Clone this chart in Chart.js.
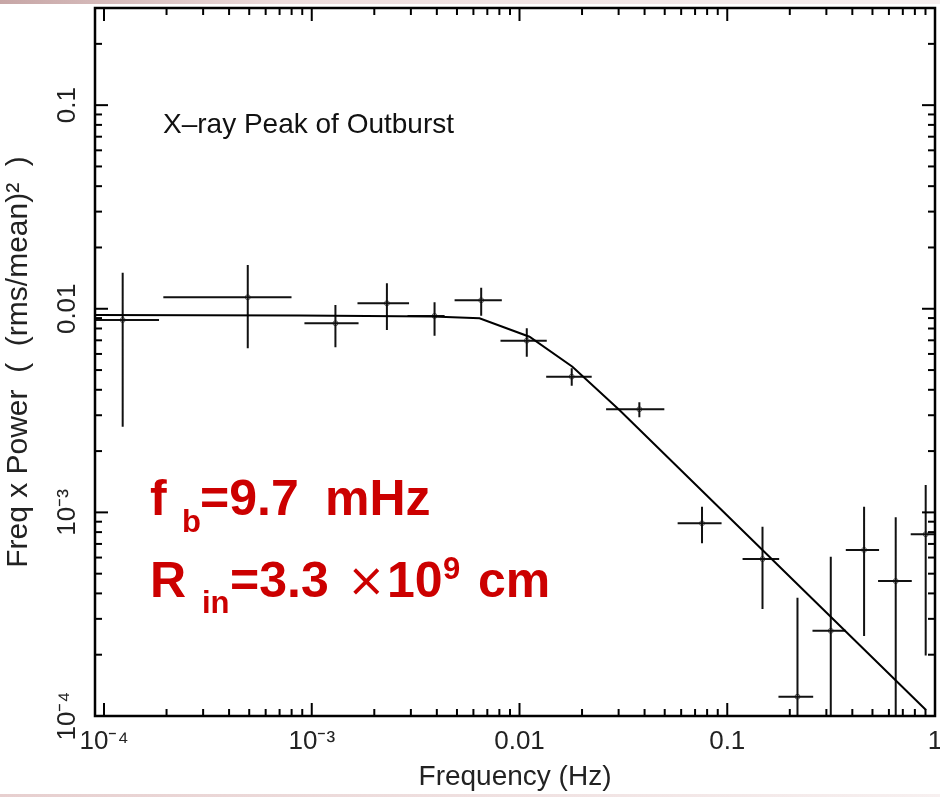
<!DOCTYPE html>
<html>
<head>
<meta charset="utf-8">
<script src="https://cdn.jsdelivr.net/npm/chart.js@4.4.1/dist/chart.umd.min.js"></script>
<style>
  html, body { margin: 0; padding: 0; background: #fff; }
  #wrap { position: relative; width: 940px; height: 797px; }
  #strip { position: absolute; left: 0; top: 0; width: 940px; height: 4px;
    background: linear-gradient(to right, #c7a6a6, #eddcdc 30%, #f6efef); }
  #strip2 { position: absolute; left: 0; top: 794px; width: 940px; height: 3px;
    background: linear-gradient(to right, #e7cfcf, #f1e3e3 60%, #f7f0f0); }
</style>
</head>
<body>
<div id="wrap">
  <canvas id="myChart" width="940" height="797"></canvas>
  <div id="strip"></div>
  <div id="strip2"></div>
</div>
<script>
// binned power spectrum (freq x power)
const freq     = [1.23e-4, 4.92e-4, 1.30e-3, 2.30e-3, 3.90e-3, 6.54e-3, 0.01084, 0.01784, 0.03775, 0.0756, 0.1478, 0.2178, 0.315, 0.4557, 0.647, 0.902];
const freqLo   = [8.23e-5, 1.93e-4, 9.22e-4, 1.66e-3, 2.89e-3, 4.87e-3, 0.0081, 0.01344, 0.02611, 0.0577, 0.1185, 0.1764, 0.2572, 0.3721, 0.532, 0.764];
const freqHi   = [1.84e-4, 7.99e-4, 1.68e-3, 2.94e-3, 4.36e-3, 8.22e-3, 0.01353, 0.02226, 0.04979, 0.0939, 0.1778, 0.2592, 0.3721, 0.538, 0.773, 1.1];
const power    = [0.00881, 0.01139, 0.00849, 0.01064, 0.00922, 0.01101, 0.00697, 0.00464, 0.00321, 8.84e-4, 5.90e-4, 1.244e-4, 2.62e-4, 6.54e-4, 4.60e-4, 7.81e-4];
const powerLo  = [0.00263, 0.0064, 0.00647, 0.00787, 0.00738, 0.00925, 0.00582, 0.00419, 0.00293, 7.05e-4, 3.35e-4, 5e-5, 5e-5, 2.47e-4, 5e-5, 1.98e-4];
const powerHi  = [0.01504, 0.01641, 0.01044, 0.01334, 0.01076, 0.01269, 0.00802, 0.0051, 0.00347, 1.067e-3, 8.51e-4, 3.81e-4, 6.06e-4, 1.067e-3, 9.46e-4, 1.363e-3];

// broken power law model
const modelFreq  = [9.05e-5, 8.76e-4, 3.82e-3, 6.42e-3, 0.01117, 0.01798, 0.03026, 0.905];
const modelPower = [0.00932, 0.00927, 0.00915, 0.00898, 0.00729, 0.00519, 0.00318, 1.07e-4];

const xTickValues = [1e-4, 1e-3, 1e-2, 0.1, 1];
const xTickLabels = ["10\u207B\u2074", "10\u207B\u00B3", "0.01", "0.1", "1"];
const yTickValues = [1e-4, 1e-3, 1e-2, 0.1];
const yTickLabels = ["10\u207B\u2074", "10\u207B\u00B3", "0.01", "0.1"];

const xMin = 9.05e-5, xMax = 1;
const yMin = 1e-4, yMax = 0.3;

const ctx = document.getElementById("myChart");
const fam = "Liberation Sans, Arial, sans-serif";
const tickFont = { family: fam, size: 26 };

// error bars as broken line segments
const errSegments = [];
freq.forEach((f, i) => {
  errSegments.push({ x: freqLo[i], y: power[i] }, { x: freqHi[i], y: power[i] }, { x: f, y: null });
  errSegments.push({ x: f, y: powerLo[i] }, { x: f, y: powerHi[i] }, { x: f, y: null });
});

const frameTicks = {
  id: "frameTicks",
  afterDraw(chart) {
    const c = chart.ctx;
    const a = chart.chartArea;
    const x = chart.scales.x, y = chart.scales.y;
    c.save();
    c.strokeStyle = "#000";
    c.lineWidth = 2;
    c.lineCap = "butt";
    const seg = (x1, y1, x2, y2) => { c.beginPath(); c.moveTo(x1, y1); c.lineTo(x2, y2); c.stroke(); };
    for (let d = -5; d <= 0; d++) {
      for (let m = 1; m <= 9; m++) {
        const v = m * Math.pow(10, d);
        const len = m === 1 ? 13 : 7;
        if (v >= x.min * 0.999 && v <= x.max * 1.001) {
          const px = x.getPixelForValue(v);
          seg(px, a.bottom, px, a.bottom - len);
          seg(px, a.top, px, a.top + len);
        }
        if (v >= y.min * 0.999 && v <= y.max * 1.001) {
          const py = y.getPixelForValue(v);
          seg(a.left, py, a.left + len, py);
          seg(a.right, py, a.right - len, py);
        }
      }
    }
    c.lineWidth = 2.5;
    c.strokeRect(a.left, a.top, a.right - a.left, a.bottom - a.top);

    // annotations
    c.fillStyle = "#111";
    c.textBaseline = "alphabetic";
    c.font = "28px " + fam;
    c.fillText("X\u2013ray Peak of Outburst", 163, 133);

    c.fillStyle = "#cc0000";
    const big = "bold 50px " + fam;
    const small = "bold 31px " + fam;
    c.font = big;  c.fillText("f", 150, 515);
    c.font = small; c.fillText("b", 182, 532);
    c.font = big;  c.fillText("=9.7", 200, 515);
    c.fillText("mHz", 325, 515);
    c.fillText("R", 150, 597);
    c.font = small; c.fillText("in", 202, 613);
    c.font = big;  c.fillText("=3.3", 230, 597);
    c.font = "46px DejaVu Sans, sans-serif"; c.fillText("\u00D7", 347, 596);
    c.font = big;  c.fillText("10", 387, 597);
    c.font = small; c.fillText("9", 443, 579);
    c.font = big;  c.fillText("cm", 478, 597);
    c.restore();
  }
};

new Chart(ctx, {
  type: "scatter",
  data: {
    datasets: [
      {
        label: "model",
        data: modelFreq.map((f, i) => ({ x: f, y: modelPower[i] })),
        showLine: true,
        borderColor: "#000",
        borderWidth: 2,
        pointRadius: 0,
        tension: 0,
      },
      {
        label: "errors",
        data: errSegments,
        showLine: true,
        spanGaps: false,
        borderColor: "#111",
        borderWidth: 2,
        pointRadius: 0,
      },
      {
        label: "data",
        data: freq.map((f, i) => ({ x: f, y: power[i] })),
        showLine: false,
        pointRadius: 2.5,
        pointBorderWidth: 1,
        pointBorderColor: "#666",
        pointBackgroundColor: "rgba(0,0,0,0)",
      },
    ],
  },
  options: {
    responsive: false,
    animation: false,
    layout: { padding: { top: 8, right: 4, left: 0, bottom: 0 } },
    plugins: { legend: { display: false }, tooltip: { enabled: false } },
    scales: {
      x: {
        type: "logarithmic",
        min: xMin,
        max: xMax,
        afterBuildTicks: (s) => { s.ticks = xTickValues.map((v) => ({ value: v })); },
        afterFit: (s) => { s.height = 81; s.paddingLeft = 0; s.paddingRight = 0; },
        grid: { display: false, drawTicks: false },
        border: { display: false },
        ticks: {
          autoSkip: false,
          minRotation: 0,
          maxRotation: 0,
          padding: 10,
          color: "#222",
          font: tickFont,
          callback: (v, i) => xTickLabels[i],
        },
        title: {
          display: true,
          text: "Frequency (Hz)",
          color: "#222",
          font: { family: fam, size: 28 },
          padding: { top: 0, bottom: 3 },
        },
      },
      y: {
        type: "logarithmic",
        min: yMin,
        max: yMax,
        afterBuildTicks: (s) => { s.ticks = yTickValues.map((v) => ({ value: v })); },
        afterFit: (s) => { s.width = 95; s.paddingTop = 0; s.paddingBottom = 0; },
        grid: { display: false, drawTicks: false },
        border: { display: false },
        ticks: {
          autoSkip: false,
          minRotation: 90,
          maxRotation: 90,
          crossAlign: "center",
          padding: 2,
          color: "#222",
          font: tickFont,
          callback: (v, i) => yTickLabels[i],
        },
        title: {
          display: true,
          text: "Freq x Power  (  (rms/mean)\u00B2  )",
          color: "#222",
          font: { family: fam, size: 30 },
          padding: { top: 1, bottom: 0 },
        },
      },
    },
  },
  plugins: [frameTicks],
});
</script>
</body>
</html>
